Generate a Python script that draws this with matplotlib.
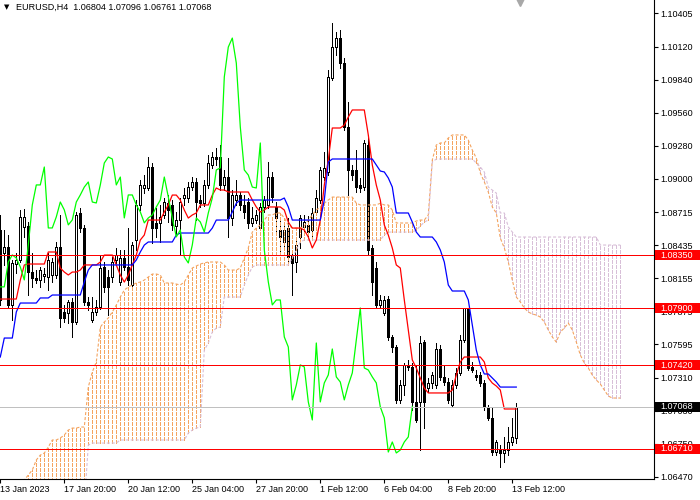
import matplotlib
matplotlib.use('Agg')
import matplotlib.pyplot as plt
import matplotlib.transforms as mtransforms
from matplotlib.patches import Rectangle

plt.rcParams['font.family'] = ['Liberation Sans', 'DejaVu Sans']
plt.rcParams['lines.scale_dashes'] = False

# EURUSD H4 candles, 13 Jan 2023 04:00 .. 13 Feb 2023 16:00
opens = [
    1.08566, 1.08371, 1.08422, 1.07930, 1.08277, 1.08311, 1.08592, 1.08600, 1.08210, 1.08159,
    1.08142, 1.08176, 1.08168, 1.08185, 1.08185, 1.08422, 1.07870, 1.07862, 1.07955, 1.07785,
    1.08710, 1.08583, 1.07955, 1.07802, 1.07870, 1.07913, 1.08252, 1.08168, 1.08168, 1.08311,
    1.08125, 1.08328, 1.08252, 1.08100, 1.08481, 1.08778, 1.08922, 1.08922, 1.09100, 1.08626,
    1.08626, 1.08693, 1.08795, 1.08778, 1.08600, 1.08651, 1.08837, 1.08837, 1.08930, 1.08973,
    1.08820, 1.08795, 1.08948, 1.09117, 1.09185, 1.09185, 1.08948, 1.09015, 1.08668, 1.08820,
    1.08863, 1.08778, 1.08803, 1.08626, 1.08651, 1.08583, 1.08761, 1.08778, 1.09015, 1.08761,
    1.08566, 1.08464, 1.08583, 1.08354, 1.08294, 1.08507, 1.08592, 1.08609, 1.08566, 1.08719,
    1.08820, 1.09015, 1.09058, 1.09855, 1.10118, 1.10194, 1.09982, 1.09440, 1.09075, 1.09075,
    1.08948, 1.08930, 1.09287, 1.08413, 1.08244, 1.07930, 1.07862, 1.07981, 1.07658, 1.07573,
    1.07124, 1.07251, 1.07421, 1.07404, 1.07107, 1.07107, 1.07616, 1.07226, 1.07268, 1.07251,
    1.07556, 1.07319, 1.07276, 1.07082, 1.07251, 1.07353, 1.07633, 1.07904, 1.07404, 1.07336,
    1.07336, 1.07268, 1.07065, 1.06971, 1.06682, 1.06708, 1.06674, 1.06699, 1.06767, 1.06804,
]
highs = [
    1.08693, 1.08566, 1.08524, 1.08311, 1.08371, 1.08736, 1.08744, 1.08634, 1.08371, 1.08227,
    1.08252, 1.08244, 1.08371, 1.08328, 1.08464, 1.08693, 1.07930, 1.07972, 1.07989, 1.08719,
    1.08753, 1.08609, 1.07998, 1.07998, 1.07972, 1.08345, 1.08294, 1.08227, 1.08337, 1.08413,
    1.08396, 1.08396, 1.08583, 1.08464, 1.08820, 1.08990, 1.09032, 1.09185, 1.09134, 1.08753,
    1.08778, 1.08837, 1.08863, 1.08820, 1.08719, 1.08837, 1.08922, 1.08973, 1.09015, 1.09007,
    1.08863, 1.08990, 1.09202, 1.09228, 1.09262, 1.09287, 1.09075, 1.09177, 1.08905, 1.08990,
    1.08888, 1.08863, 1.08837, 1.08761, 1.08736, 1.08795, 1.08854, 1.09143, 1.09058, 1.08803,
    1.08668, 1.08609, 1.08668, 1.08396, 1.08481, 1.08693, 1.08693, 1.08685, 1.08753, 1.08905,
    1.09100, 1.09228, 1.09923, 1.10322, 1.10245, 1.10262, 1.10025, 1.09652, 1.09117, 1.09245,
    1.09007, 1.09329, 1.09372, 1.08439, 1.08294, 1.08015, 1.08006, 1.08006, 1.07675, 1.07590,
    1.07293, 1.07438, 1.07463, 1.07438, 1.07421, 1.07667, 1.07633, 1.07310, 1.07361, 1.07607,
    1.07590, 1.07421, 1.07310, 1.07293, 1.07395, 1.07675, 1.07904, 1.07904, 1.07446, 1.07378,
    1.07361, 1.07293, 1.07082, 1.07065, 1.06784, 1.06742, 1.06810, 1.06895, 1.06971, 1.07096,
]
lows = [
    1.07930, 1.08269, 1.07904, 1.07802, 1.08202, 1.08294, 1.08507, 1.08015, 1.08083, 1.08117,
    1.08083, 1.08125, 1.08057, 1.08125, 1.08159, 1.07743, 1.07785, 1.07777, 1.07658, 1.07768,
    1.08549, 1.07930, 1.07887, 1.07785, 1.07845, 1.07896, 1.08040, 1.07845, 1.08125, 1.08286,
    1.08100, 1.08227, 1.08100, 1.08057, 1.08396, 1.08736, 1.08880, 1.08905, 1.08456, 1.08507,
    1.08464, 1.08668, 1.08634, 1.08566, 1.08524, 1.08354, 1.08778, 1.08803, 1.08905, 1.08651,
    1.08761, 1.08770, 1.08922, 1.09092, 1.09117, 1.08905, 1.08905, 1.08507, 1.08609, 1.08778,
    1.08736, 1.08668, 1.08583, 1.08600, 1.08626, 1.08566, 1.08719, 1.08753, 1.08803, 1.08549,
    1.08371, 1.08413, 1.08269, 1.08015, 1.08210, 1.08413, 1.08549, 1.08507, 1.08498, 1.08693,
    1.08795, 1.08990, 1.09032, 1.09838, 1.10050, 1.09940, 1.09414, 1.08863, 1.08990, 1.08888,
    1.08888, 1.08905, 1.08354, 1.08015, 1.07904, 1.07904, 1.07845, 1.07633, 1.07531, 1.07099,
    1.07099, 1.07167, 1.07378, 1.07039, 1.06937, 1.06699, 1.06886, 1.07192, 1.07226, 1.07226,
    1.07293, 1.07251, 1.07099, 1.07073, 1.07226, 1.07336, 1.07616, 1.07378, 1.07361, 1.07293,
    1.07243, 1.07039, 1.06954, 1.06657, 1.06657, 1.06555, 1.06597, 1.06657, 1.06742, 1.06761,
]
closes = [
    1.07972, 1.08422, 1.07930, 1.08286, 1.08311, 1.08677, 1.08677, 1.08210, 1.08159, 1.08142,
    1.08227, 1.08193, 1.08311, 1.08294, 1.08422, 1.07819, 1.07819, 1.07955, 1.07785, 1.08693,
    1.08583, 1.07955, 1.07930, 1.07870, 1.07913, 1.08244, 1.08083, 1.08083, 1.08294, 1.08354,
    1.08328, 1.08252, 1.08142, 1.08439, 1.08778, 1.08948, 1.08948, 1.09100, 1.08583, 1.08583,
    1.08677, 1.08803, 1.08736, 1.08609, 1.08651, 1.08803, 1.08863, 1.08930, 1.08973, 1.08803,
    1.08795, 1.08948, 1.09134, 1.09185, 1.09168, 1.08948, 1.09015, 1.08668, 1.08863, 1.08863,
    1.08778, 1.08719, 1.08626, 1.08668, 1.08693, 1.08761, 1.08820, 1.09015, 1.08846, 1.08668,
    1.08507, 1.08566, 1.08337, 1.08286, 1.08439, 1.08668, 1.08634, 1.08549, 1.08710, 1.08837,
    1.09075, 1.09092, 1.09864, 1.10118, 1.10194, 1.09982, 1.09440, 1.09075, 1.09032, 1.08930,
    1.08922, 1.09304, 1.08396, 1.08125, 1.07930, 1.07972, 1.07972, 1.07658, 1.07573, 1.07124,
    1.07251, 1.07421, 1.07404, 1.07107, 1.06954, 1.07607, 1.07107, 1.07268, 1.07336, 1.07556,
    1.07319, 1.07276, 1.07124, 1.07251, 1.07353, 1.07633, 1.07904, 1.07395, 1.07378, 1.07319,
    1.07268, 1.07065, 1.06971, 1.06682, 1.06767, 1.06674, 1.06699, 1.06767, 1.06810, 1.07068,
]

# Ichimoku lines
tenkan = [
    1.07980, 1.07980, 1.07980, 1.07980, 1.07980, 1.08141, 1.08269, 1.08277, 1.08277, 1.08277,
    1.08277, 1.08277, 1.08379, 1.08379, 1.08379, 1.08243, 1.08209, 1.08184, 1.08209, 1.08209,
    1.08226, 1.08269, 1.08269, 1.08269, 1.08269, 1.08294, 1.08353, 1.08353, 1.08353, 1.08269,
    1.08184, 1.08124, 1.08184, 1.08269, 1.08353, 1.08481, 1.08523, 1.08650, 1.08650, 1.08650,
    1.08650, 1.08718, 1.08778, 1.08862, 1.08862, 1.08820, 1.08735, 1.08667, 1.08693, 1.08710,
    1.08778, 1.08778, 1.08778, 1.08862, 1.08922, 1.08905, 1.08905, 1.08888, 1.08888, 1.08888,
    1.08888, 1.08888, 1.08888, 1.08820, 1.08761, 1.08718, 1.08735, 1.08761, 1.08761, 1.08761,
    1.08761, 1.08735, 1.08633, 1.08582, 1.08582, 1.08582, 1.08565, 1.08506, 1.08413, 1.08481,
    1.08650, 1.08947, 1.09161, 1.09431, 1.09431, 1.09431, 1.09456, 1.09524, 1.09584, 1.09584,
    1.09584, 1.09584, 1.09372, 1.09117, 1.08947, 1.08820, 1.08608, 1.08523, 1.08413, 1.08269,
    1.08243, 1.07972, 1.07717, 1.07463, 1.07395, 1.07310, 1.07225, 1.07183, 1.07183, 1.07183,
    1.07183, 1.07183, 1.07183, 1.07208, 1.07335, 1.07446, 1.07488, 1.07488, 1.07488, 1.07488,
    1.07488, 1.07446, 1.07310, 1.07267, 1.07242, 1.07208, 1.07047, 1.07047, 1.07047, 1.07047,
]
kijun = [
    1.07488, 1.07649, 1.07649, 1.07649, 1.07870, 1.07946, 1.07946, 1.07946, 1.07946, 1.07946,
    1.07989, 1.07989, 1.07989, 1.08014, 1.08014, 1.08014, 1.08014, 1.08014, 1.08014, 1.08014,
    1.08014, 1.08124, 1.08226, 1.08269, 1.08269, 1.08269, 1.08269, 1.08269, 1.08269, 1.08269,
    1.08269, 1.08269, 1.08269, 1.08269, 1.08311, 1.08379, 1.08438, 1.08464, 1.08464, 1.08464,
    1.08464, 1.08464, 1.08464, 1.08464, 1.08523, 1.08540, 1.08540, 1.08540, 1.08540, 1.08540,
    1.08540, 1.08540, 1.08540, 1.08582, 1.08650, 1.08650, 1.08650, 1.08650, 1.08718, 1.08793,
    1.08820, 1.08820, 1.08820, 1.08820, 1.08820, 1.08820, 1.08820, 1.08820, 1.08820, 1.08820,
    1.08820, 1.08837, 1.08761, 1.08650, 1.08650, 1.08650, 1.08650, 1.08650, 1.08650, 1.08650,
    1.08650, 1.08820, 1.09142, 1.09168, 1.09168, 1.09168, 1.09168, 1.09168, 1.09168, 1.09168,
    1.09168, 1.09168, 1.09168, 1.09168, 1.09117, 1.09066, 1.09058, 1.09007, 1.08930, 1.08710,
    1.08710, 1.08710, 1.08710, 1.08633, 1.08548, 1.08506, 1.08506, 1.08506, 1.08506, 1.08464,
    1.08396, 1.08294, 1.08099, 1.08048, 1.08048, 1.08048, 1.08048, 1.07972, 1.07759, 1.07547,
    1.07420, 1.07344, 1.07344, 1.07310, 1.07276, 1.07233, 1.07233, 1.07233, 1.07233, 1.07233,
]
span_a = [
    1.06190, 1.06232, 1.06274, 1.06317, 1.06359, 1.06402, 1.06444, 1.06487, 1.06529, 1.06614,
    1.06656, 1.06673, 1.06724, 1.06784, 1.06784, 1.06801, 1.06826, 1.06868, 1.06885, 1.06885,
    1.06894, 1.06894, 1.07233, 1.07361, 1.07446, 1.07742, 1.07785, 1.07819, 1.07870, 1.07929,
    1.07997, 1.08056, 1.08082, 1.08099, 1.08116, 1.08124, 1.08141, 1.08167, 1.08192, 1.08192,
    1.08184, 1.08116, 1.08116, 1.08116, 1.08107, 1.08099, 1.08124, 1.08184, 1.08243, 1.08260,
    1.08277, 1.08286, 1.08294, 1.08294, 1.08294, 1.08294, 1.08269, 1.08226, 1.08226, 1.08226,
    1.08243, 1.08328, 1.08413, 1.08548, 1.08582, 1.08608, 1.08650, 1.08693, 1.08693, 1.08710,
    1.08710, 1.08667, 1.08608, 1.08582, 1.08582, 1.08582, 1.08599, 1.08650, 1.08693, 1.08735,
    1.08761, 1.08793, 1.08820, 1.08845, 1.08845, 1.08845, 1.08845, 1.08845, 1.08845, 1.08793,
    1.08778, 1.08778, 1.08778, 1.08778, 1.08778, 1.08793, 1.08778, 1.08778, 1.08735, 1.08625,
    1.08625, 1.08625, 1.08625, 1.08625, 1.08642, 1.08650, 1.08650, 1.08693, 1.09161, 1.09287,
    1.09304, 1.09304, 1.09346, 1.09372, 1.09372, 1.09372, 1.09372, 1.09329, 1.09244, 1.09176,
    1.09049, 1.08974, 1.08888, 1.08761, 1.08710, 1.08497, 1.08413, 1.08294, 1.08141, 1.07997,
    1.07955, 1.07904, 1.07870, 1.07853, 1.07844, 1.07827, 1.07785, 1.07717, 1.07658, 1.07615,
    1.07700, 1.07734, 1.07776, 1.07717, 1.07615, 1.07505, 1.07437, 1.07395, 1.07335, 1.07293,
    1.07259, 1.07208, 1.07157, 1.07140, 1.07140, 1.07140,
]
span_b = [
    1.06232, 1.06232, 1.06232, 1.06232, 1.06232, 1.06232, 1.06232, 1.06232, 1.06232, 1.06232,
    1.06232, 1.06232, 1.06232, 1.06232, 1.06232, 1.06232, 1.06232, 1.06232, 1.06232, 1.06232,
    1.06232, 1.06232, 1.06741, 1.06758, 1.06758, 1.06758, 1.06758, 1.06758, 1.06758, 1.06758,
    1.06784, 1.06784, 1.06784, 1.06784, 1.06784, 1.06784, 1.06784, 1.06784, 1.06784, 1.06784,
    1.06784, 1.06784, 1.06784, 1.06784, 1.06784, 1.06784, 1.06784, 1.06843, 1.06868, 1.06885,
    1.06894, 1.07547, 1.07607, 1.07700, 1.07734, 1.07742, 1.07997, 1.07997, 1.07997, 1.07997,
    1.07997, 1.08099, 1.08184, 1.08252, 1.08269, 1.08269, 1.08269, 1.08269, 1.08269, 1.08269,
    1.08269, 1.08269, 1.08269, 1.08328, 1.08396, 1.08464, 1.08481, 1.08481, 1.08481, 1.08481,
    1.08481, 1.08481, 1.08481, 1.08481, 1.08481, 1.08481, 1.08481, 1.08481, 1.08481, 1.08481,
    1.08481, 1.08481, 1.08481, 1.08481, 1.08481, 1.08481, 1.08523, 1.08548, 1.08548, 1.08548,
    1.08548, 1.08548, 1.08548, 1.08548, 1.08565, 1.08599, 1.08633, 1.08650, 1.09142, 1.09168,
    1.09168, 1.09168, 1.09168, 1.09168, 1.09168, 1.09168, 1.09168, 1.09168, 1.09168, 1.09134,
    1.09100, 1.09058, 1.08930, 1.08905, 1.08879, 1.08710, 1.08710, 1.08591, 1.08548, 1.08506,
    1.08506, 1.08506, 1.08506, 1.08506, 1.08506, 1.08506, 1.08506, 1.08506, 1.08506, 1.08506,
    1.08506, 1.08506, 1.08506, 1.08506, 1.08506, 1.08506, 1.08506, 1.08506, 1.08506, 1.08506,
    1.08438, 1.08438, 1.08438, 1.08438, 1.08438, 1.08438,
]
chikou_shift = 26

x_label_bars = [0, 16, 32, 48, 64, 80, 96, 112, 128]
x_labels = ['13 Jan 2023', '17 Jan 20:00', '20 Jan 12:00', '25 Jan 04:00',
            '27 Jan 20:00', '1 Feb 12:00', '6 Feb 04:00', '8 Feb 20:00', '13 Feb 12:00']
y_ticks = [1.10405, 1.10120, 1.09840, 1.09560, 1.09280, 1.09000, 1.08715, 1.08435,
           1.08155, 1.07875, 1.07595, 1.07310, 1.07030, 1.06750, 1.06470]
levels = [1.08350, 1.07900, 1.07420, 1.06710]
bid = 1.07068
title = 'EURUSD,H4  1.06804 1.07096 1.06761 1.07068'

W, H = 700, 500
fig = plt.figure(figsize=(W / 100, H / 100), dpi=100)
ax = fig.add_axes([0, 21 / H, 654 / W, 479 / H])
y_lo, y_hi = 1.06453, 1.10517
ax.set_xlim(-0.075, 163.425)
ax.set_ylim(y_lo, y_hi)

n = len(closes)
bars = list(range(n))
px = 0.72  # one screen pixel in points

# candles
ax.vlines(bars, lows, highs, color='black', lw=px, antialiased=False, zorder=2)
bottoms = [min(o, c) for o, c in zip(opens, closes)]
heights = [abs(c - o) for o, c in zip(opens, closes)]
faces = ['white' if c >= o else 'black' for o, c in zip(opens, closes)]
ax.bar(bars, heights, bottom=bottoms, width=0.5, color=faces,
       edgecolor='black', linewidth=px, antialiased=False, zorder=3)

# kumo: one dotted column per bar, coloured by which span is on top
dash = (0, (2.2, 1.4))
cb = list(range(len(span_a)))
up_i = [i for i in cb if span_a[i] >= span_b[i]]
dn_i = [i for i in cb if span_a[i] < span_b[i]]
ax.vlines(up_i, [span_b[i] for i in up_i], [span_a[i] for i in up_i],
          colors='#F4A460', linestyles=[dash], lw=0.45, antialiased=False, zorder=4)
ax.vlines(dn_i, [span_a[i] for i in dn_i], [span_b[i] for i in dn_i],
          colors='#D8BFD8', linestyles=[dash], lw=0.45, antialiased=False, zorder=4)
ax.plot(cb, span_a, color='#F4A460', ls=dash, lw=0.8, zorder=4)
ax.plot(cb, span_b, color='#D8BFD8', ls=dash, lw=0.8, zorder=4)

# tenkan / kijun / chikou
ax.plot(bars, tenkan, color='#FF0000', lw=0.9, zorder=5)
ax.plot(bars, kijun, color='#0000FF', lw=0.9, zorder=5)
ax.plot(range(n - chikou_shift), closes[chikou_shift:], color='#00FF00', lw=0.9, zorder=5)

# horizontal levels
for lv in levels:
    ax.axhline(lv, color='#FF0000', lw=px, antialiased=False, zorder=6)
ax.axhline(bid, color='#C0C0C0', lw=px, antialiased=False, zorder=6)

# axes look
for s in ['left', 'top']:
    ax.spines[s].set_visible(False)
for s in ['right', 'bottom']:
    ax.spines[s].set_color('black')
    ax.spines[s].set_linewidth(0.8)
ax.yaxis.tick_right()
ax.set_yticks(y_ticks)
ax.set_yticklabels([f'{t:.5f}' for t in y_ticks])
ax.set_xticks(x_label_bars)
ax.set_xticklabels(x_labels, ha='left')
ax.tick_params(axis='y', direction='out', length=3, width=0.8, pad=1.5, labelsize=6.5)
ax.tick_params(axis='x', direction='out', length=3, width=0.8, pad=1.5, labelsize=6.5)

# price boxes on the right scale
trans = mtransforms.blended_transform_factory(fig.transFigure, ax.transData)
box_h = 10 * (y_hi - y_lo) / 479
for lv, col in [(v, '#FF0000') for v in levels] + [(bid, '#000000')]:
    ax.add_patch(Rectangle((655 / W, lv - box_h / 2), 45 / W, box_h, transform=trans,
                           facecolor=col, edgecolor='none', clip_on=False, zorder=10))
    ax.text(660 / W, lv, f'{lv:.5f}', transform=trans, color='white', fontsize=6.5,
            va='center', ha='left', zorder=11, clip_on=False)

# chart shift marker
tmark = mtransforms.blended_transform_factory(ax.transData, ax.transAxes)
ax.plot([n], [1 - 1.5 / 479], marker='v', ms=6, color='#A8A8A8', transform=tmark,
        clip_on=False, zorder=12)

# title
fig.text(4 / W, 1 - 7 / H, '\u25BC', fontsize=5, family='DejaVu Sans', va='center', ha='left')
fig.text(16 / W, 1 - 7 / H, title, fontsize=6.5, va='center', ha='left')

fig.savefig('out.png', dpi=100)
